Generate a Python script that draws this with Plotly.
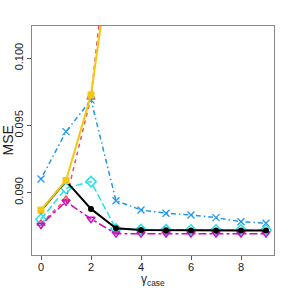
import plotly.graph_objects as go

x = [0, 1, 2, 3, 4, 5, 6, 7, 8, 9]
black = [0.08866, 0.09087, 0.08879, 0.08735, 0.08722, 0.08720, 0.08718, 0.08718, 0.08718, 0.08719]
orange = [0.08870, 0.09090, 0.09727, 0.1105, 0.1140, 0.1160, 0.1175, 0.1185, 0.1190, 0.1195]
pink = [0.08770, 0.08950, 0.09710, 0.1142, 0.1170, 0.1185, 0.1195, 0.1200, 0.1205, 0.1210]
blue = [0.09102, 0.09454, 0.09690, 0.08940, 0.08871, 0.08847, 0.08834, 0.08814, 0.08784, 0.08772]
cyan = [0.08802, 0.09033, 0.09082, 0.08730, 0.08725, 0.08723, 0.08722, 0.08722, 0.08722, 0.08722]
magenta = [0.08760, 0.08933, 0.08804, 0.08695, 0.08695, 0.08695, 0.08695, 0.08695, 0.08695, 0.08695]
x_ticks = [0, 2, 4, 6, 8]
y_ticks = [0.090, 0.095, 0.100]

W, H = 288, 288
L, R, T, B = 32, 14, 26, 33

fig = go.Figure()

def add(y, color, dash, symbol, size, width=1.5, mlw=1.5):
    fig.add_trace(go.Scatter(
        x=x, y=y, mode="lines+markers",
        line=dict(color=color, width=width, dash=dash),
        marker=dict(symbol=symbol, size=size, color=color,
                    line=dict(color=color, width=mlw)),
        showlegend=False, cliponaxis=True))

add(pink, "#DF536B", "4px,4px", "triangle-up-open", 7)
add(blue, "#2297E6", "1.5px,3px,5px,3px", "x-thin-open", 7, mlw=1.3)
add(cyan, "#28E2E5", "7px,3px", "diamond-open", 8)
add(magenta, "#CD0BBC", "3px,3px,8px,3px", "triangle-down-open", 7)
add(black, "#000000", "solid", "circle", 6, width=2, mlw=0)
add(orange, "#F5C710", "solid", "square", 7, width=2, mlw=0)

font = "Liberation Sans, Arial, sans-serif"
axis_common = dict(showline=True, mirror=True, linecolor="#888888", linewidth=1,
                   ticks="outside", ticklen=4, tickcolor="#555555", showgrid=False,
                   zeroline=False, automargin=False,
                   tickfont=dict(family=font, size=11, color="#222222"))

fig.update_layout(
    width=W, height=H,
    margin=dict(l=L, r=R, t=T, b=B, autoexpand=False),
    paper_bgcolor="white", plot_bgcolor="white",
    xaxis=dict(range=[-0.36, 9.32], tickvals=x_ticks, ticklabelstandoff=-2, **axis_common),
    yaxis=dict(range=[0.08536, 0.10240], tickvals=y_ticks, tickformat=".3f", tickangle=-90,
               **axis_common),
    annotations=[
        dict(text="γ<sub>case</sub>", xref="paper", yref="paper",
             x=0.5, y=-(280 - (H - B)) / (H - T - B), xanchor="center", yanchor="middle",
             showarrow=False, font=dict(family=font, size=12, color="#222222")),
        dict(text="MSE", xref="paper", yref="paper", textangle=-90,
             x=-(L - 7) / (W - L - R), y=0.5, xanchor="center", yanchor="middle",
             showarrow=False, font=dict(family=font, size=14, color="#222222")),
    ],
)

fig.write_html("out.html", config={"displayModeBar": False},
               post_script="document.body.style.margin='0px';")
